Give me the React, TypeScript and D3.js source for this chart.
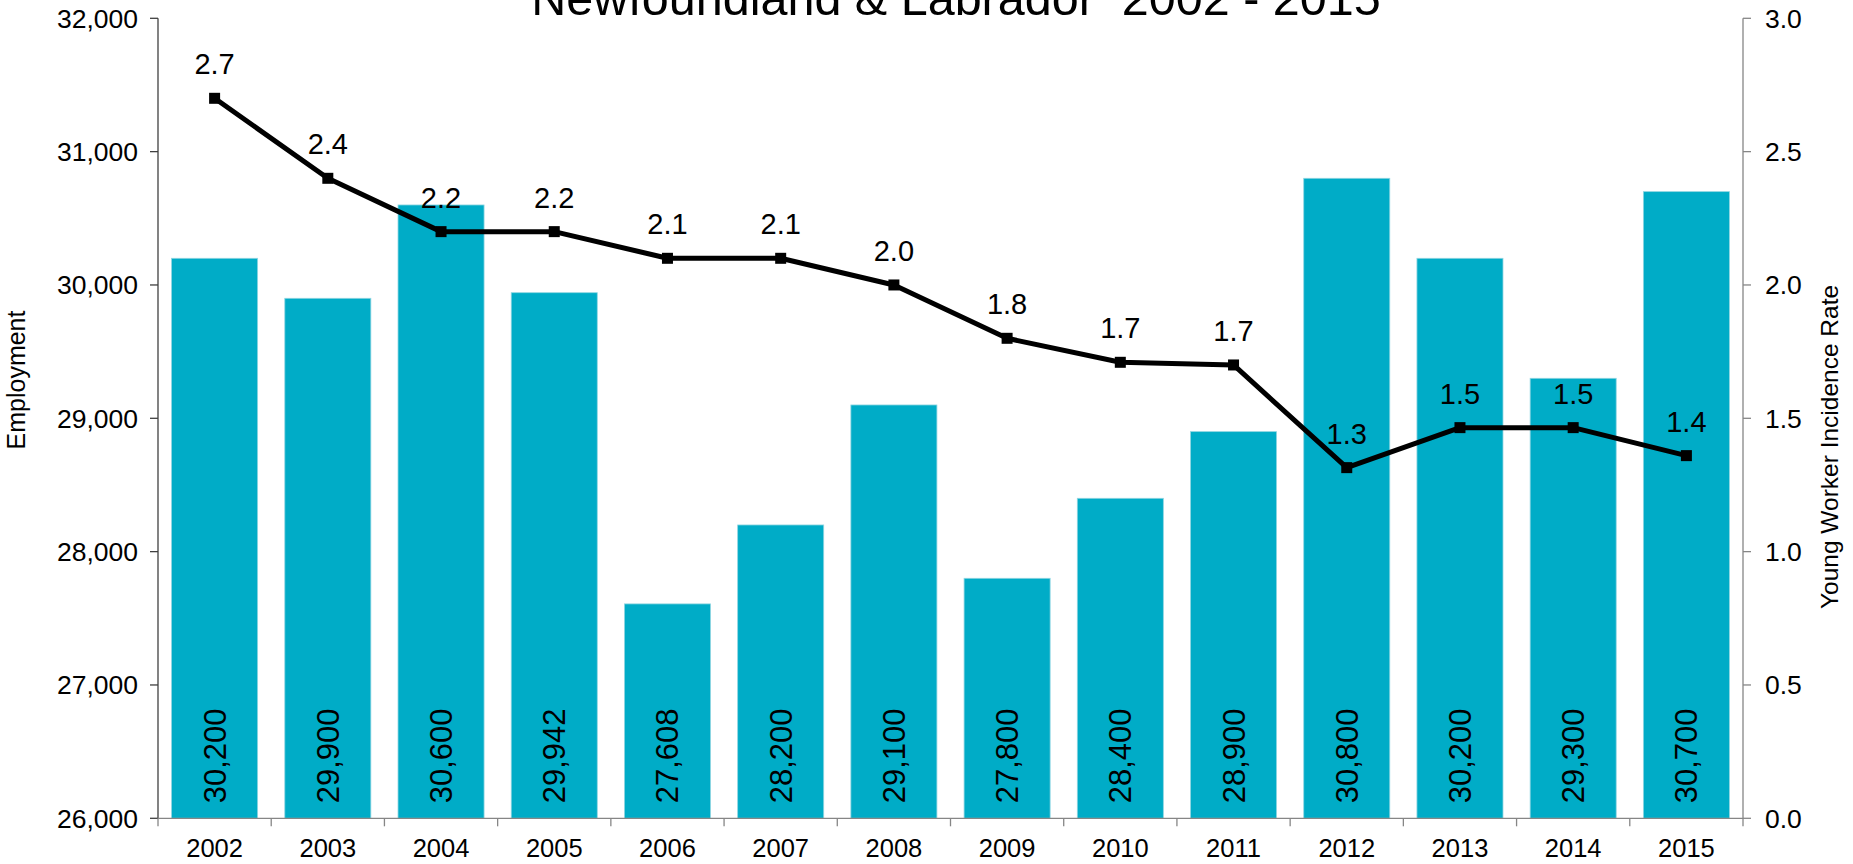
import React, { useEffect } from "react";
import * as d3 from "d3";

const years = ["2002","2003","2004","2005","2006","2007","2008","2009","2010","2011","2012","2013","2014","2015"];
const employment = [30200, 29900, 30600, 29942, 27608, 28200, 29100, 27800, 28400, 28900, 30800, 30200, 29300, 30700];
const incidenceRate = [2.70, 2.40, 2.20, 2.20, 2.10, 2.10, 2.00, 1.80, 1.71, 1.70, 1.315, 1.465, 1.465, 1.36];
const leftTicks = [26000, 27000, 28000, 29000, 30000, 31000, 32000];
const rightTicks = [0, 0.5, 1.0, 1.5, 2.0, 2.5, 3.0];
const title = "Newfoundland & Labrador  2002 - 2015";

const W = 1853, H = 864;
const X0 = 158, X1 = 1743, Y0 = 18.3, Y1 = 818.3;
const FONT = "'Liberation Sans', Arial, sans-serif";
const BAR = "#00acc7";

export default function App() {
  useEffect(() => {
    document.body.style.margin = "0";
    document.body.style.overflow = "hidden";
  }, []);

  const x = d3.scaleBand<string>().domain(years).range([X0, X1]).paddingInner(0.24).paddingOuter(0.12);
  const yL = d3.scaleLinear().domain([26000, 32000]).range([Y1, Y0]);
  const yR = d3.scaleLinear().domain([0, 3]).range([Y1, Y0]);
  const fmt = d3.format(",");
  const cx = (yr: string) => (x(yr) as number) + x.bandwidth() / 2;
  const line = d3.line<number>().x((_, i) => cx(years[i])).y((v) => yR(v));
  const step = (X1 - X0) / years.length;

  return (
    <svg width={W} height={H} style={{ position: "absolute", left: 0, top: 0, fontFamily: FONT }}>
      <rect width={W} height={H} fill="#fff" />
      {/* bars */}
      {employment.map((v, i) => (
        <rect key={"b" + i} x={x(years[i])} y={yL(v)} width={x.bandwidth()} height={Y1 - yL(v)} fill={BAR} stroke="#8fd6e2" strokeWidth={0.8} />
      ))}
      {/* bar labels */}
      {employment.map((v, i) => (
        <text key={"bl" + i} transform={`translate(${cx(years[i]) + 11},${Y1 - 15}) rotate(-90)`} fontSize={31} fill="#000">
          {fmt(v)}
        </text>
      ))}
      {/* left axis */}
      <line x1={X0} x2={X0} y1={Y0} y2={Y1} stroke="#404040" strokeWidth={1.3} />
      {leftTicks.map((t) => (
        <g key={"lt" + t}>
          <line x1={X0 - 8} x2={X0} y1={yL(t)} y2={yL(t)} stroke="#404040" strokeWidth={1.3} />
          <text x={X0 - 20} y={yL(t)} dy="0.35em" textAnchor="end" fontSize={26.5}>{fmt(t)}</text>
        </g>
      ))}
      {/* right axis */}
      <line x1={X1} x2={X1} y1={Y0} y2={Y1} stroke="#868686" strokeWidth={1.3} />
      {rightTicks.map((t) => (
        <g key={"rt" + t}>
          <line x1={X1} x2={X1 + 8} y1={yR(t)} y2={yR(t)} stroke="#868686" strokeWidth={1.3} />
          <text x={X1 + 22} y={yR(t)} dy="0.35em" textAnchor="start" fontSize={26.5}>{t.toFixed(1)}</text>
        </g>
      ))}
      {/* bottom axis */}
      <line x1={X0} x2={X1} y1={Y1} y2={Y1} stroke="#868686" strokeWidth={1.3} />
      {d3.range(years.length + 1).map((i) => (
        <line key={"xt" + i} x1={X0 + i * step} x2={X0 + i * step} y1={Y1} y2={Y1 + 8} stroke="#868686" strokeWidth={1.3} />
      ))}
      {years.map((yr) => (
        <text key={"xl" + yr} x={cx(yr)} y={848} dy="0.35em" textAnchor="middle" fontSize={25.5}>{yr}</text>
      ))}
      {/* line */}
      <path d={line(incidenceRate) || ""} fill="none" stroke="#000" strokeWidth={5} strokeLinejoin="round" />
      {incidenceRate.map((v, i) => (
        <rect key={"m" + i} x={cx(years[i]) - 5.5} y={yR(v) - 5.5} width={11} height={11} fill="#000" />
      ))}
      {incidenceRate.map((v, i) => (
        <text key={"ll" + i} x={cx(years[i])} y={yR(v) - 24} textAnchor="middle" fontSize={29}>{v.toFixed(1)}</text>
      ))}
      {/* titles */}
      <text x={956} y={15} textAnchor="middle" fontSize={48.5} style={{ whiteSpace: "pre" }}>{title}</text>
      <text transform={`translate(25,380) rotate(-90)`} textAnchor="middle" fontSize={25}>Employment</text>
      <text transform={`translate(1838,447) rotate(-90)`} textAnchor="middle" fontSize={24.5}>Young Worker Incidence Rate</text>
    </svg>
  );
}
